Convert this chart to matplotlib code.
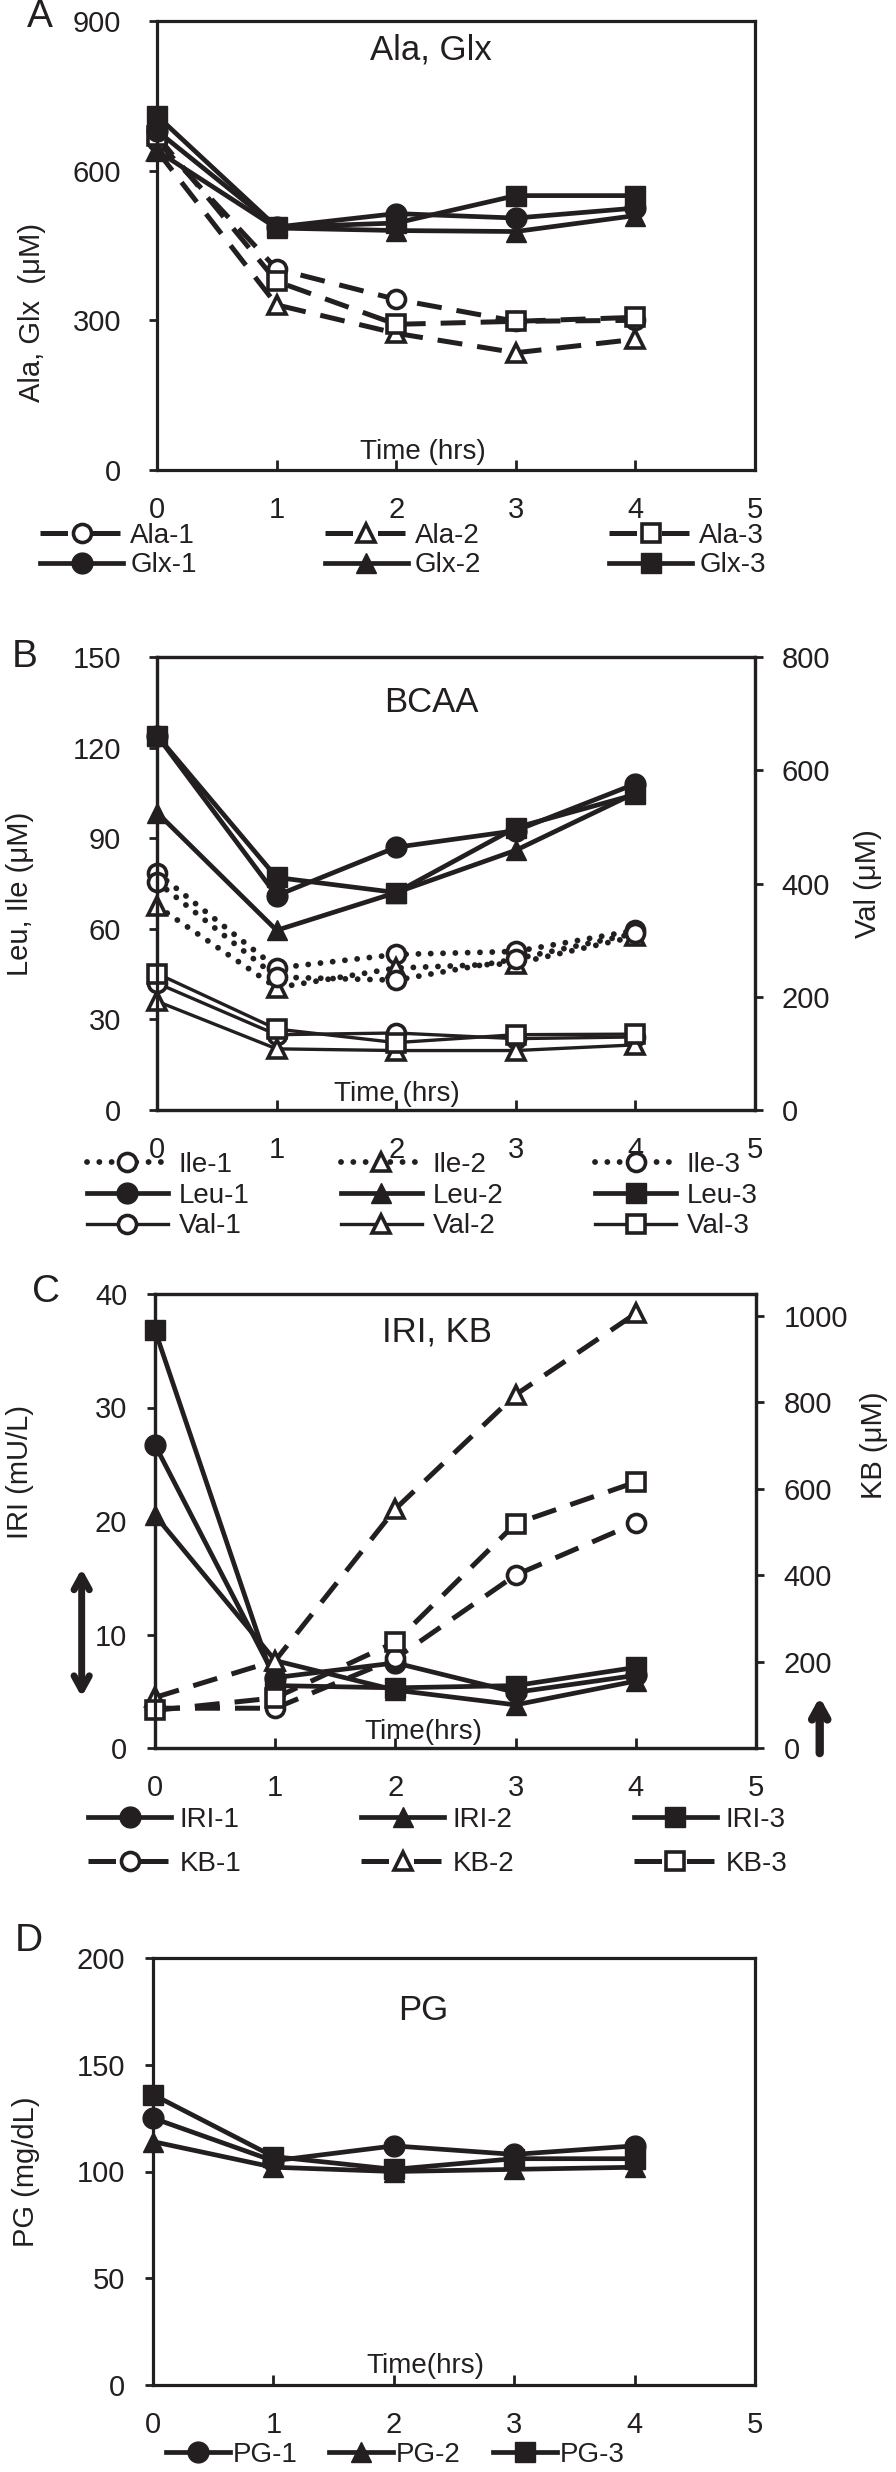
import numpy as np
import matplotlib
matplotlib.use('Agg')
import matplotlib.pyplot as plt
from matplotlib.lines import Line2D

plt.rcParams['font.family'] = ['Liberation Sans', 'DejaVu Sans']

# ---- data ----
hours = [0, 1, 2, 3, 4]

ala_1 = [660, 403, 342, 298, 300]
ala_2 = [640, 331, 274, 235, 262]
ala_3 = [670, 378, 292, 298, 306]
glx_1 = [680, 487, 514, 505, 525]
glx_2 = [640, 485, 480, 478, 510]
glx_3 = [710, 487, 495, 550, 550]

ile_1 = [78.5, 47.0, 51.5, 52.5, 59.5]
ile_2 = [67.5, 40.5, 47.0, 48.5, 57.5]
ile_3 = [75.5, 44.0, 43.0, 50.0, 58.5]
leu_1 = [124, 71, 87, 92.5, 108]
leu_2 = [98.5, 59.5, 72, 86, 105]
leu_3 = [124, 77, 72, 93.5, 104.5]
val_1 = [224, 133, 136, 126, 129]
val_2 = [192, 108, 105, 105, 115]
val_3 = [241, 143, 119, 133, 134]

iri_1 = [26.7, 6.2, 7.5, 4.9, 6.4]
iri_2 = [20.5, 7.7, 5.1, 3.8, 5.9]
iri_3 = [36.8, 5.5, 5.3, 5.5, 7.1]
kb_1 = [92, 92, 207, 400, 520]
kb_2 = [117, 202, 553, 817, 1005]
kb_3 = [87, 116, 245, 519, 615]

pg_1 = [125, 105, 112, 108, 112]
pg_2 = [114, 102, 100, 101, 102]
pg_3 = [136, 107, 101, 106, 106]

INK = '#231f20'
W, H = 896, 2472

fig = plt.figure(figsize=(W / 100, H / 100), dpi=100)


def px_axes(l, t, r, b):
    return fig.add_axes([l / W, 1 - b / H, (r - l) / W, (b - t) / H])


def style(ax, ylim, yticks, ypad):
    ax.set_xlim(0, 5)
    ax.set_xticks(range(6))
    ax.set_ylim(*ylim)
    ax.set_yticks(yticks)
    ax.tick_params(axis='x', direction='in', length=7, width=2, pad=19,
                   labelsize=21, colors=INK)
    ax.tick_params(axis='y', direction='out', length=6, width=2, pad=ypad,
                   labelsize=21, colors=INK)
    for s in ax.spines.values():
        s.set_linewidth(2.3)
        s.set_color(INK)


def line_style(marker, kind):
    kw = dict(color=INK, marker=marker)
    if kind == 'dash':
        kw.update(lw=3.6, dashes=(5, 3), mfc='white', mec=INK, ms=13, mew=2.6)
    elif kind == 'dot':
        kw.update(lw=4.2, dashes=(0.01, 2.1), dash_capstyle='round',
                  mfc='white', mec=INK, ms=13, mew=2.6)
    elif kind == 'thin':
        kw.update(lw=2.4, mfc='white', mec=INK, ms=13, mew=2.6)
    else:
        kw.update(lw=3.4, mfc=INK, mec=INK, ms=15, mew=1)
    return kw


def series(ax, y, marker, kind):
    ax.plot(hours, y, clip_on=False, **line_style(marker, kind))
    # legend key: dashed keys show one dash either side of the marker
    kw = line_style(marker, kind)
    if kind == 'dash':
        kw['dashes'] = (5.5, 5.0)
    return Line2D([], [], **kw)


def inner_text(ax, x, y, s, size):
    ax.text(x, y, s, transform=ax.transAxes, ha='center', va='center',
            fontsize=size, color=INK)


def legend(handles, labels, x, y, ncol, hl, tp, cs, ls):
    fig.legend(handles, labels, loc='upper left',
               bbox_to_anchor=(x / W, 1 - y / H), ncol=ncol, frameon=False,
               borderpad=0, borderaxespad=0, fontsize=20, handlelength=hl,
               handletextpad=tp, columnspacing=cs, labelspacing=ls,
               labelcolor=INK)


def ylabel(ax, text, x, y):
    ax.set_ylabel(text, fontsize=21, color=INK, va='center')
    ax.yaxis.set_label_coords(x, y)


# ---------------- A ----------------
axA = px_axes(157, 21, 755, 470)
style(axA, (0, 900), [0, 300, 600, 900], 20)
a1 = series(axA, ala_1, 'o', 'dash')
a2 = series(axA, ala_2, '^', 'dash')
a3 = series(axA, ala_3, 's', 'dash')
g1 = series(axA, glx_1, 'o', 'solid')
g2 = series(axA, glx_2, '^', 'solid')
g3 = series(axA, glx_3, 's', 'solid')
ylabel(axA, 'Ala, Glx  (\u03bcM)', (32 - 157) / 598, 0.35)
inner_text(axA, 0.458, 0.935, 'Ala, Glx', 25)
inner_text(axA, 0.445, 0.04, 'Time (hrs)', 20)
fig.text(40 / W, 1 - 17 / H, 'A', fontsize=28, ha='center', va='center', color=INK)
legend([a1, g1, a2, g2, a3, g3],
       ['Ala-1', 'Glx-1', 'Ala-2', 'Glx-2', 'Ala-3', 'Glx-3'],
       40, 523, 3, 3.0, 0.25, 4.6, 0.12)

# ---------------- B ----------------
axB = px_axes(157, 657, 755, 1110)
style(axB, (0, 150), [0, 30, 60, 90, 120, 150], 20)
axB2 = axB.twinx()
axB2.set_ylim(0, 800)
axB2.set_yticks([0, 200, 400, 600, 800])
axB2.tick_params(axis='y', direction='out', length=6, width=2, pad=13,
                 labelsize=21, colors=INK)
for s in axB2.spines.values():
    s.set_linewidth(2.3)
    s.set_color(INK)
i1 = series(axB, ile_1, 'o', 'dot')
i2 = series(axB, ile_2, '^', 'dot')
i3 = series(axB, ile_3, 'o', 'dot')
l1 = series(axB, leu_1, 'o', 'solid')
l2 = series(axB, leu_2, '^', 'solid')
l3 = series(axB, leu_3, 's', 'solid')
v1 = series(axB2, val_1, 'o', 'thin')
v2 = series(axB2, val_2, '^', 'thin')
v3 = series(axB2, val_3, 's', 'thin')
ylabel(axB, 'Leu, Ile (\u03bcM)', (20 - 157) / 598, 0.477)
ylabel(axB2, 'Val (\u03bcM)', (868 - 157) / 598, 0.499)
inner_text(axB, 0.458, 0.90, 'BCAA', 25)
inner_text(axB, 0.401, 0.035, 'Time (hrs)', 20)
fig.text(25 / W, 1 - 657 / H, 'B', fontsize=28, ha='center', va='center', color=INK)
legend([i1, l1, v1, i2, l2, v2, i3, l3, v3],
       ['Ile-1', 'Leu-1', 'Val-1', 'Ile-2', 'Leu-2', 'Val-2',
        'Ile-3', 'Leu-3', 'Val-3'],
       87, 1152, 3, 2.9, 0.4, 3.3, 0.17)

# ---------------- C ----------------
axC = px_axes(155, 1294, 756, 1748)
style(axC, (0, 40), [0, 10, 20, 30, 40], 14)
axC2 = axC.twinx()
axC2.set_ylim(0, 1050)
axC2.set_yticks([0, 200, 400, 600, 800, 1000])
axC2.tick_params(axis='y', direction='out', length=6, width=2, pad=14,
                 labelsize=21, colors=INK)
for s in axC2.spines.values():
    s.set_linewidth(2.3)
    s.set_color(INK)
r1 = series(axC, iri_1, 'o', 'solid')
r2 = series(axC, iri_2, '^', 'solid')
r3 = series(axC, iri_3, 's', 'solid')
k1 = series(axC2, kb_1, 'o', 'dash')
k2 = series(axC2, kb_2, '^', 'dash')
k3 = series(axC2, kb_3, 's', 'dash')
ylabel(axC, 'IRI (mU/L)', (20 - 155) / 601, 0.608)
ylabel(axC2, 'KB (\u03bcM)', (874 - 155) / 601, 0.667)
inner_text(axC, 0.469, 0.916, 'IRI, KB', 25)
inner_text(axC, 0.446, 0.035, 'Time(hrs)', 20)
fig.text(46 / W, 1 - 1292 / H, 'C', fontsize=28, ha='center', va='center', color=INK)
axC.annotate('', xy=(-0.61, 4.5), xytext=(-0.61, 15.8), annotation_clip=False,
             arrowprops=dict(arrowstyle='<->,head_length=1.0,head_width=0.55',
                             lw=5, color=INK, shrinkA=0, shrinkB=0))
axC.annotate('', xy=(5.53, 4.5), xytext=(5.53, -0.45), annotation_clip=False,
             arrowprops=dict(arrowstyle='->,head_length=1.0,head_width=0.55',
                             lw=6, color=INK, shrinkA=0, shrinkB=0))
legend([r1, k1, r2, k2, r3, k3],
       ['IRI-1', 'KB-1', 'IRI-2', 'KB-2', 'IRI-3', 'KB-3'],
       88, 1807, 3, 3.0, 0.3, 4.3, 0.65)

# ---------------- D ----------------
axD = px_axes(153, 1958, 755, 2385)
style(axD, (0, 200), [0, 50, 100, 150, 200], 14)
p1 = series(axD, pg_1, 'o', 'solid')
p2 = series(axD, pg_2, '^', 'solid')
p3 = series(axD, pg_3, 's', 'solid')
ylabel(axD, 'PG (mg/dL)', (26 - 153) / 602, 0.50)
inner_text(axD, 0.453, 0.045, 'Time(hrs)', 20)
inner_text(axD, 0.449, 0.878, 'PG', 25)
fig.text(29 / W, 1 - 1941 / H, 'D', fontsize=28, ha='center', va='center', color=INK)
legend([p1, p2, p3], ['PG-1', 'PG-2', 'PG-3'],
       166, 2442, 3, 2.3, 0.1, 1.15, 0.3)

fig.savefig('out.png', dpi=100)
